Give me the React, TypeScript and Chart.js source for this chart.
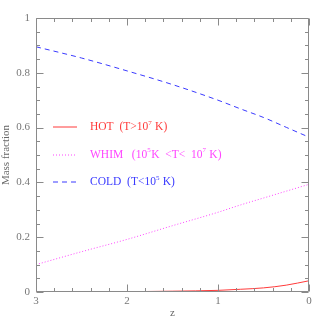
import React, { useEffect, useRef } from "react";
import { Chart, registerables } from "chart.js";

Chart.register(...registerables);

// Redshift samples
const Z = [3, 2.5, 2, 1.5, 1, 0.75, 0.5, 0.25, 0];
// Mass fractions
const HOT = [0.0, 0.0, 0.001, 0.003, 0.006, 0.01, 0.015, 0.025, 0.041];
const WHIM = [0.1, 0.147, 0.192, 0.242, 0.291, 0.318, 0.343, 0.368, 0.393];
const COLD = [0.895, 0.854, 0.807, 0.757, 0.7, 0.668, 0.637, 0.601, 0.565];

const X_TICKS = [3, 2, 1, 0];
const Y_TICKS = [0, 0.2, 0.4, 0.6, 0.8, 1];
const X_MINOR_STEP = 0.2;
const Y_MINOR_STEP = 0.05;

const RED = "#ff3a3a";
const MAG = "#ff44ff";
const BLUE = "#3a3aff";
const AXIS = "#8a8a8a";
const SERIF = "'Liberation Serif', 'DejaVu Serif', serif";

type Part = [string, boolean];
const LEGEND: { color: string; dash: number[]; parts: Part[] }[] = [
  { color: RED, dash: [], parts: [["HOT  (T>10", false], ["7", true], [" K)", false]] },
  {
    color: MAG,
    dash: [1, 2],
    parts: [["WHIM   (10", false], ["5", true], ["K  <T<  10", false], ["7", true], [" K)", false]],
  },
  { color: BLUE, dash: [5, 4], parts: [["COLD  (T<10", false], ["5", true], [" K)", false]] },
];

const framePlugin = {
  id: "frame",
  afterDatasetsDraw(chart: any) {
    const { ctx, chartArea: a, scales } = chart;
    const x = scales.x;
    const y = scales.y;
    ctx.save();
    ctx.strokeStyle = AXIS;
    ctx.lineWidth = 1;
    const L = Math.round(a.left) + 0.5;
    const R = Math.round(a.right) - 0.5;
    const T = Math.round(a.top) + 0.5;
    const B = Math.round(a.bottom) - 0.5;
    ctx.beginPath();
    ctx.rect(L, T, R - L, B - T);
    ctx.stroke();
    ctx.beginPath();
    for (let i = 0; i <= Math.round(3 / X_MINOR_STEP); i++) {
      const v = i * X_MINOR_STEP;
      const major = Math.abs(v - Math.round(v)) < 1e-6;
      const len = major ? 7 : 3.5;
      const px = Math.round(x.getPixelForValue(v)) + 0.5;
      ctx.moveTo(px, B);
      ctx.lineTo(px, B - len);
      ctx.moveTo(px, T);
      ctx.lineTo(px, T + len);
    }
    for (let i = 0; i <= Math.round(1 / Y_MINOR_STEP); i++) {
      const v = i * Y_MINOR_STEP;
      const major = Math.abs(v / 0.2 - Math.round(v / 0.2)) < 1e-6;
      const len = major ? 7 : 3.5;
      const py = Math.round(y.getPixelForValue(v)) + 0.5;
      ctx.moveTo(L, py);
      ctx.lineTo(L + len, py);
      ctx.moveTo(R, py);
      ctx.lineTo(R - len, py);
    }
    ctx.stroke();

    // legend
    const rows = [109, 136.5, 164];
    LEGEND.forEach((item, i) => {
      const yy = a.top + rows[i];
      ctx.strokeStyle = item.color;
      ctx.setLineDash(item.dash);
      ctx.lineWidth = 1;
      ctx.beginPath();
      ctx.moveTo(a.left + 17, Math.round(yy));
      ctx.lineTo(a.left + 41, Math.round(yy));
      ctx.stroke();
      ctx.setLineDash([]);
      ctx.fillStyle = item.color;
      ctx.textBaseline = "middle";
      ctx.textAlign = "left";
      let tx = a.left + 54;
      item.parts.forEach(([s, sup]) => {
        ctx.font = sup ? `7px ${SERIF}` : `11.5px ${SERIF}`;
        ctx.fillText(s, tx, sup ? yy - 4 : yy);
        tx += ctx.measureText(s).width + (sup ? 0.5 : 0);
      });
    });
    ctx.restore();
  },
};

export default function App() {
  const ref = useRef<HTMLCanvasElement>(null);
  useEffect(() => {
    if (!ref.current) return;
    const mk = (vals: number[]) => Z.map((z, i) => ({ x: z, y: vals[i] }));
    const chart = new Chart(ref.current, {
      type: "scatter",
      data: {
        datasets: [
          { label: "HOT", data: mk(HOT), borderColor: RED, borderWidth: 1, showLine: true, pointRadius: 0, cubicInterpolationMode: "monotone" },
          { label: "WHIM", data: mk(WHIM), borderColor: MAG, borderWidth: 1, borderDash: [1, 2], showLine: true, pointRadius: 0, cubicInterpolationMode: "monotone" },
          { label: "COLD", data: mk(COLD), borderColor: BLUE, borderWidth: 1, borderDash: [5, 4], showLine: true, pointRadius: 0, cubicInterpolationMode: "monotone" },
        ],
      } as any,
      options: {
        animation: false,
        responsive: false,
        devicePixelRatio: 1,
        layout: { padding: { top: 18, right: 18, left: 0, bottom: 0 } },
        plugins: { legend: { display: false }, tooltip: { enabled: false } },
        scales: {
          x: {
            type: "linear",
            min: 0,
            max: 3,
            reverse: true,
            grid: { display: false, drawTicks: false },
            border: { display: false },
            afterBuildTicks: (s: any) => {
              s.ticks = X_TICKS.map((v) => ({ value: v }));
            },
            afterFit: (s: any) => {
              s.height = 35;
            },
            ticks: { padding: 3, color: "#777", font: { family: SERIF, size: 11 }, maxRotation: 0, callback: (v: any) => String(v) },
            title: { display: true, text: "z", color: "#666", font: { family: SERIF, size: 11 }, padding: { top: 0, bottom: 7 } },
          },
          y: {
            type: "linear",
            min: 0,
            max: 1,
            grid: { display: false, drawTicks: false },
            border: { display: false },
            afterBuildTicks: (s: any) => {
              s.ticks = Y_TICKS.map((v) => ({ value: v }));
            },
            afterFit: (s: any) => {
              s.width = 36;
            },
            ticks: { padding: 6, color: "#777", font: { family: SERIF, size: 11 }, callback: (v: any) => String(v) },
            title: { display: true, text: "Mass fraction", color: "#666", font: { family: SERIF, size: 11 }, padding: { top: 0, bottom: 0 } },
          },
        },
      } as any,
      plugins: [framePlugin],
    });
    return () => chart.destroy();
  }, []);
  return (
    <div style={{ position: "fixed", left: 0, top: 0, width: 327, height: 327, background: "#fff" }}>
      <canvas ref={ref} width={327} height={327} />
    </div>
  );
}
